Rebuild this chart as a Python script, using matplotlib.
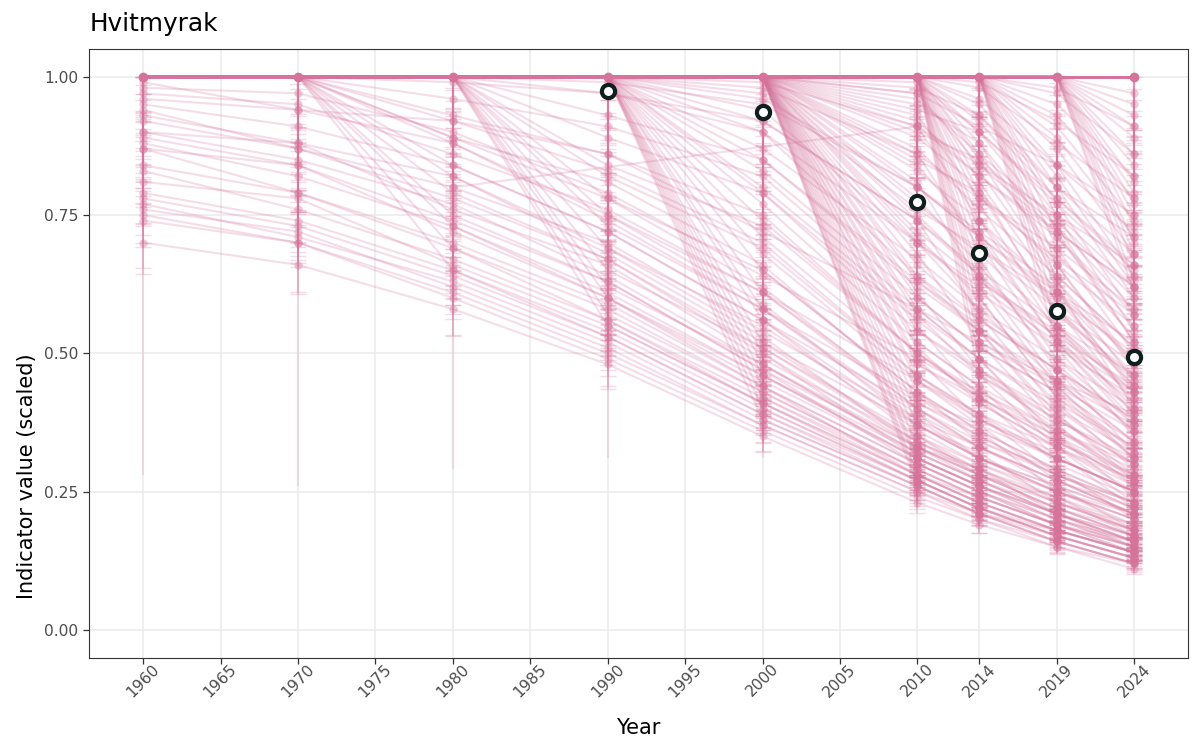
import numpy as np
import matplotlib.pyplot as plt


YEARS = [1960, 1970, 1980, 1990, 2000, 2010, 2014, 2019, 2024]
TICKS = [1960, 1965, 1970, 1975, 1980, 1985, 1990, 1995, 2000, 2005,
         2010, 2014, 2019, 2024]

# indicators already below the reference value in 1960 (all years)
from_1960 = [
    [0.99, 0.94, 0.92, 0.86, 0.72, 0.58, 0.52, 0.45, 0.39],
    [0.98, 0.97, 0.90, 0.79, 0.64, 0.49, 0.43, 0.36, 0.30],
    [0.97, 0.95, 0.86, 0.76, 0.61, 0.45, 0.39, 0.33, 0.27],
    [0.96, 0.94, 0.88, 0.74, 0.58, 0.42, 0.37, 0.31, 0.25],
    [0.95, 0.91, 0.84, 0.72, 0.56, 0.40, 0.34, 0.28, 0.23],
    [0.94, 0.87, 0.80, 0.70, 0.54, 0.38, 0.33, 0.27, 0.22],
    [0.93, 0.88, 0.82, 0.68, 0.52, 0.37, 0.31, 0.26, 0.21],
    [0.92, 0.87, 0.78, 0.67, 0.51, 0.35, 0.30, 0.25, 0.20],
    [0.90, 0.88, 0.76, 0.66, 0.49, 0.34, 0.29, 0.24, 0.19],
    [0.90, 0.85, 0.77, 0.64, 0.48, 0.33, 0.28, 0.23, 0.18],
    [0.89, 0.84, 0.74, 0.63, 0.47, 0.33, 0.28, 0.22, 0.18],
    [0.88, 0.82, 0.73, 0.61, 0.46, 0.32, 0.27, 0.21, 0.17],
    [0.87, 0.84, 0.72, 0.60, 0.45, 0.31, 0.26, 0.21, 0.16],
    [0.87, 0.79, 0.70, 0.59, 0.44, 0.30, 0.25, 0.20, 0.16],
    [0.84, 0.79, 0.69, 0.58, 0.43, 0.29, 0.24, 0.19, 0.15],
    [0.83, 0.76, 0.67, 0.56, 0.42, 0.29, 0.24, 0.19, 0.15],
    [0.81, 0.78, 0.66, 0.55, 0.41, 0.28, 0.23, 0.18, 0.14],
    [0.79, 0.74, 0.65, 0.54, 0.40, 0.27, 0.22, 0.18, 0.14],
    [0.78, 0.73, 0.64, 0.53, 0.39, 0.27, 0.22, 0.17, 0.13],
    [0.77, 0.71, 0.63, 0.52, 0.38, 0.26, 0.21, 0.17, 0.13],
    [0.76, 0.72, 0.62, 0.51, 0.37, 0.25, 0.21, 0.16, 0.12],
    [0.75, 0.70, 0.61, 0.50, 0.37, 0.25, 0.20, 0.16, 0.12],
    [0.74, 0.70, 0.60, 0.49, 0.36, 0.24, 0.20, 0.15, 0.12],
    [0.70, 0.66, 0.58, 0.48, 0.35, 0.23, 0.19, 0.15, 0.11],
]
err_1960 = [0.02, 0.04, 0.03, 0.05, 0.02, 0.03, 0.06, 0.02, 0.04, 0.03, 0.05, 0.02,
            0.04, 0.07, 0.03, 0.05, 0.02, 0.06, 0.04, 0.03, 0.05, 0.08, 0.04, 0.05]

# at 1.00 until 1970, values from 1980 on
from_1970 = [
    [0.99, 0.97, 0.92, 0.74, 0.64, 0.53, 0.44],
    [0.96, 0.91, 0.82, 0.58, 0.49, 0.40, 0.32],
    [0.93, 0.86, 0.75, 0.50, 0.42, 0.34, 0.27],
    [0.92, 0.83, 0.70, 0.46, 0.38, 0.31, 0.25],
    [0.89, 0.81, 0.66, 0.42, 0.35, 0.28, 0.22],
    [0.89, 0.78, 0.62, 0.40, 0.33, 0.27, 0.21],
    [0.88, 0.75, 0.59, 0.37, 0.31, 0.25, 0.19],
    [0.84, 0.72, 0.56, 0.35, 0.29, 0.23, 0.18],
    [0.82, 0.69, 0.53, 0.33, 0.27, 0.22, 0.17],
    [0.79, 0.67, 0.50, 0.31, 0.26, 0.21, 0.16],
    [0.75, 0.63, 0.47, 0.30, 0.25, 0.19, 0.15],
    [0.73, 0.60, 0.44, 0.28, 0.23, 0.18, 0.14],
    [0.69, 0.56, 0.41, 0.27, 0.22, 0.17, 0.13],
    [0.65, 0.53, 0.39, 0.26, 0.21, 0.16, 0.12],
]
err_1970 = [0.03, 0.02, 0.05, 0.04, 0.02, 0.06, 0.03, 0.04, 0.02, 0.05, 0.03, 0.07, 0.04, 0.06]

# at 1.00 until 1980, values from 1990 on
from_1980 = [
    [0.99, 0.95, 0.80, 0.71, 0.60, 0.50],
    [0.97, 0.90, 0.70, 0.61, 0.51, 0.42],
    [0.93, 0.85, 0.63, 0.54, 0.44, 0.36],
    [0.89, 0.79, 0.56, 0.47, 0.38, 0.30],
    [0.84, 0.73, 0.50, 0.42, 0.34, 0.27],
    [0.82, 0.69, 0.46, 0.39, 0.31, 0.25],
    [0.78, 0.65, 0.43, 0.36, 0.29, 0.23],
    [0.75, 0.61, 0.40, 0.33, 0.27, 0.21],
    [0.73, 0.58, 0.38, 0.31, 0.25, 0.20],
    [0.69, 0.55, 0.36, 0.30, 0.24, 0.18],
    [0.65, 0.51, 0.34, 0.28, 0.22, 0.17],
    [0.62, 0.48, 0.32, 0.27, 0.21, 0.16],
    [0.60, 0.46, 0.31, 0.26, 0.20, 0.15],
    [0.57, 0.43, 0.29, 0.24, 0.19, 0.14],
    [0.55, 0.41, 0.28, 0.23, 0.18, 0.14],
]
err_1980 = [0.02, 0.04, 0.03, 0.05, 0.02, 0.06, 0.03, 0.04, 0.02, 0.05, 0.03, 0.04, 0.06, 0.03, 0.05]

# at 1.00 until 1990, values from 2000 on
from_1990 = [
    [0.98, 0.86, 0.78, 0.67, 0.57],
    [0.96, 0.80, 0.71, 0.61, 0.52],
    [0.92, 0.74, 0.65, 0.55, 0.46],
    [0.87, 0.67, 0.58, 0.49, 0.40],
    [0.85, 0.62, 0.54, 0.45, 0.37],
    [0.80, 0.57, 0.49, 0.41, 0.33],
    [0.79, 0.54, 0.46, 0.38, 0.31],
    [0.74, 0.50, 0.43, 0.35, 0.28],
    [0.68, 0.45, 0.38, 0.31, 0.25],
    [0.61, 0.41, 0.35, 0.28, 0.22],
    [0.56, 0.37, 0.31, 0.25, 0.20],
    [0.52, 0.34, 0.29, 0.23, 0.18],
    [0.48, 0.32, 0.27, 0.21, 0.16],
    [0.44, 0.30, 0.25, 0.20, 0.15],
    [0.42, 0.28, 0.23, 0.18, 0.14],
    [0.40, 0.27, 0.22, 0.17, 0.13],
    [0.38, 0.26, 0.21, 0.16, 0.12],
    [0.99, 0.91, 0.82, 0.72, 0.62],
    [0.97, 0.76, 0.69, 0.58, 0.48],
    [0.94, 0.70, 0.62, 0.52, 0.43],
    [0.90, 0.64, 0.56, 0.47, 0.38],
    [0.83, 0.60, 0.51, 0.43, 0.34],
    [0.77, 0.52, 0.44, 0.36, 0.29],
    [0.71, 0.48, 0.41, 0.33, 0.26],
    [0.65, 0.43, 0.36, 0.29, 0.23],
    [0.58, 0.39, 0.33, 0.26, 0.21],
    [0.50, 0.33, 0.28, 0.22, 0.17],
    [0.46, 0.31, 0.26, 0.20, 0.16],
]
err_1990 = [0.03, 0.02, 0.04, 0.05, 0.02, 0.03, 0.06, 0.02, 0.04, 0.03, 0.05, 0.02,
            0.04, 0.03, 0.05, 0.02, 0.04, 0.03, 0.05, 0.02, 0.04, 0.06, 0.03, 0.02,
            0.05, 0.04, 0.03, 0.06]

# at 1.00 until 2000, values from 2010 on
from_2000 = [
    [0.98, 0.93, 0.80, 0.71],
    [0.97, 0.84, 0.72, 0.62],
    [0.95, 0.88, 0.66, 0.55],
    [0.93, 0.78, 0.69, 0.58],
    [0.91, 0.74, 0.61, 0.49],
    [0.89, 0.80, 0.57, 0.46],
    [0.86, 0.69, 0.60, 0.44],
    [0.84, 0.71, 0.52, 0.41],
    [0.81, 0.63, 0.54, 0.43],
    [0.78, 0.66, 0.48, 0.36],
    [0.74, 0.57, 0.47, 0.38],
    [0.71, 0.60, 0.42, 0.33],
    [0.68, 0.52, 0.44, 0.31],
    [0.64, 0.54, 0.38, 0.30],
    [0.61, 0.47, 0.39, 0.27],
    [0.58, 0.49, 0.34, 0.28],
    [0.55, 0.42, 0.35, 0.24],
    [0.52, 0.44, 0.31, 0.25],
    [0.49, 0.38, 0.32, 0.22],
    [0.46, 0.39, 0.28, 0.23],
    [0.43, 0.34, 0.29, 0.20],
    [0.41, 0.36, 0.25, 0.21],
    [0.39, 0.31, 0.26, 0.18],
    [0.37, 0.32, 0.23, 0.19],
    [0.35, 0.28, 0.24, 0.17],
    [0.33, 0.29, 0.21, 0.17],
    [0.31, 0.26, 0.21, 0.15],
    [0.30, 0.25, 0.19, 0.16],
    [0.28, 0.24, 0.19, 0.14],
    [0.27, 0.22, 0.17, 0.13],
    [0.26, 0.21, 0.18, 0.14],
    [0.99, 0.90, 0.77, 0.64],
    [0.97, 0.91, 0.84, 0.75],
    [0.96, 0.86, 0.74, 0.60],
    [0.94, 0.90, 0.78, 0.66],
    [0.92, 0.82, 0.71, 0.57],
    [0.90, 0.85, 0.73, 0.52],
    [0.87, 0.76, 0.64, 0.51],
    [0.85, 0.79, 0.66, 0.47],
    [0.83, 0.74, 0.58, 0.45],
    [0.80, 0.72, 0.62, 0.40],
    [0.77, 0.68, 0.55, 0.42],
    [0.75, 0.64, 0.51, 0.35],
    [0.72, 0.63, 0.53, 0.39],
    [0.70, 0.58, 0.45, 0.34],
    [0.66, 0.56, 0.47, 0.32],
    [0.63, 0.55, 0.41, 0.29],
    [0.60, 0.51, 0.43, 0.31],
    [0.57, 0.46, 0.37, 0.26],
    [0.54, 0.47, 0.36, 0.28],
    [0.51, 0.41, 0.33, 0.23],
    [0.48, 0.42, 0.30, 0.24],
    [0.45, 0.37, 0.27, 0.21],
]
err_2000 = [0.02, 0.03, 0.05, 0.02, 0.04, 0.03, 0.06, 0.02, 0.04, 0.05, 0.03, 0.02,
            0.04, 0.06, 0.03, 0.05, 0.02, 0.04, 0.03, 0.06, 0.02, 0.05, 0.04, 0.03,
            0.06, 0.02, 0.04, 0.05, 0.03, 0.04, 0.06, 0.03, 0.05, 0.02, 0.04, 0.06,
            0.03, 0.02, 0.05, 0.04, 0.03, 0.06, 0.02, 0.04, 0.05, 0.03, 0.02, 0.06,
            0.04, 0.03, 0.05, 0.02, 0.04]

# at 1.00 until 2010, values from 2014 on
from_2010 = [
    [0.98, 0.88, 0.78],
    [0.95, 0.80, 0.68],
    [0.92, 0.75, 0.62],
    [0.88, 0.71, 0.55],
    [0.85, 0.64, 0.51],
    [0.81, 0.61, 0.46],
    [0.77, 0.55, 0.43],
    [0.72, 0.52, 0.38],
    [0.67, 0.47, 0.36],
    [0.62, 0.44, 0.32],
    [0.57, 0.40, 0.30],
    [0.52, 0.37, 0.27],
    [0.99, 0.92, 0.82],
    [0.96, 0.84, 0.72],
    [0.93, 0.78, 0.65],
    [0.90, 0.73, 0.58],
    [0.86, 0.68, 0.53],
    [0.83, 0.63, 0.48],
    [0.79, 0.58, 0.44],
    [0.74, 0.54, 0.40],
    [0.70, 0.49, 0.37],
    [0.64, 0.45, 0.34],
    [0.60, 0.42, 0.31],
    [0.54, 0.39, 0.28],
    [0.49, 0.35, 0.26],
    [0.46, 0.33, 0.25],
]
err_2010 = [0.03, 0.05, 0.02, 0.04, 0.06, 0.03, 0.02, 0.05, 0.04, 0.03, 0.06, 0.02,
            0.04, 0.02, 0.05, 0.03, 0.06, 0.02, 0.04, 0.03, 0.05, 0.02, 0.06, 0.04,
            0.03, 0.05]

# at 1.00 until 2014, values from 2019 on
from_2014 = [
    [0.97, 0.86],
    [0.93, 0.78],
    [0.89, 0.71],
    [0.84, 0.64],
    [0.80, 0.60],
    [0.75, 0.54],
    [0.69, 0.50],
    [0.63, 0.45],
    [0.58, 0.41],
    [0.98, 0.91],
    [0.95, 0.82],
    [0.91, 0.74],
    [0.87, 0.68],
    [0.82, 0.62],
    [0.77, 0.57],
    [0.72, 0.52],
    [0.66, 0.48],
    [0.61, 0.43],
    [0.55, 0.39],
    [0.52, 0.37],
]
err_2014 = [0.02, 0.04, 0.03, 0.05, 0.02, 0.04, 0.06, 0.03, 0.05, 0.03, 0.05, 0.02,
            0.04, 0.06, 0.03, 0.02, 0.05, 0.04, 0.03, 0.06]

# at 1.00 until 2019, value in 2024
from_2019 = [[0.95], [0.91], [0.86], [0.81], [0.77], [0.73], [0.68], [0.63],
             [0.97], [0.93], [0.89], [0.84], [0.79], [0.75], [0.70], [0.66], [0.61]]
err_2019 = [0.03, 0.02, 0.05, 0.04, 0.03, 0.06, 0.02, 0.04, 0.05, 0.03, 0.02, 0.06,
            0.04, 0.03, 0.05, 0.02, 0.04]

# one indicator that rises between 1980 and 2010
rising_years = [1980, 2010, 2014, 2019, 2024]
rising_values = [0.80, 0.91, 0.84, 0.75, 0.66]

# indicators that stay at the reference value, with their lower bounds
flat_values = [1.00, 1.00, 1.00, 1.00, 1.00, 1.00, 1.00, 1.00, 1.00]
flat_lower = [0.28, 0.26, 0.29, 0.31, 0.31, np.nan, np.nan, np.nan, np.nan]
flat_lower_short = [0.73, 0.70, 0.75, 0.68, 0.72, 0.70, 0.74, 0.71, 0.69]

# mean over all indicators
mean_years = [1990, 2000, 2010, 2014, 2019, 2024]
mean_values = [0.975, 0.936, 0.773, 0.681, 0.577, 0.493]

PINK = '#D5739B'
DARK = '#0E1F1D'


def pad(tails, n_at_one):
    return [[1.0] * n_at_one + list(t) for t in tails]


def main():
    groups = [
        (from_1960, err_1960),
        (pad(from_1970, 2), err_1970),
        (pad(from_1980, 3), err_1980),
        (pad(from_1990, 4), err_1990),
        (pad(from_2000, 5), err_2000),
        (pad(from_2010, 6), err_2010),
        (pad(from_2014, 7), err_2014),
        (pad(from_2019, 8), err_2019),
    ]
    for rows, errs in groups:
        assert len(rows) == len(errs)

    fig = plt.figure(figsize=(12, 7.5), dpi=100)
    ax = fig.add_axes([0.0744, 0.1233, 0.9156, 0.8113])

    xs, ys, lo, hi = [], [], [], []
    for rows, errs in groups:
        for row, e in zip(rows, errs):
            ax.plot(YEARS, row, color=PINK, alpha=0.24, lw=1.5, zorder=2)
            for x, v in zip(YEARS, row):
                if v < 1.0:
                    xs.append(x)
                    ys.append(v)
                    lo.append(v * e * 1.6)
                    hi.append(min(1.0 - v, v * e))

    ax.errorbar(xs, ys, yerr=[lo, hi], fmt='none', ecolor=PINK,
                alpha=0.25, elinewidth=1.3, capsize=5.5, capthick=1.0, zorder=2)

    ax.plot(rising_years, rising_values, color=PINK, alpha=0.24, lw=1.5, zorder=2)
    xs += rising_years
    ys += rising_values

    flat = np.array(flat_values)
    for lower, a in ((flat_lower, 0.18), (flat_lower_short, 0.7)):
        fl = np.array(lower)
        ok = ~np.isnan(fl)
        ax.errorbar(np.array(YEARS)[ok], flat[ok],
                    yerr=[flat[ok] - fl[ok], np.zeros(ok.sum())],
                    fmt='none', ecolor=PINK, alpha=a, elinewidth=1.6,
                    capsize=0, zorder=2)

    ax.scatter(xs, ys, s=36, color=PINK, alpha=0.38, linewidths=0, zorder=3)
    ax.plot(YEARS, flat_values, color=PINK, lw=2.2, marker='o', ms=7,
            mew=0, zorder=4)

    ax.plot(mean_years, mean_values, 'o', ms=9.5, mfc='white', mec=DARK,
            mew=3.0, zorder=6)

    ax.set_xlim(1956.525, 2027.475)
    ax.set_ylim(-0.05, 1.05)
    ax.set_xticks(TICKS)
    ax.set_yticks([0, 0.25, 0.5, 0.75, 1.0])
    ax.set_yticklabels(['0.00', '0.25', '0.50', '0.75', '1.00'])
    ax.grid(True, color='#EBEBEB', lw=1.1, zorder=0)
    ax.set_axisbelow(True)
    for s in ax.spines.values():
        s.set_color('#333333')
        s.set_linewidth(0.8)

    ax.tick_params(axis='both', length=4.3, width=0.9, color='#333333',
                   labelcolor='#4D4D4D', labelsize=11.2)
    ax.tick_params(axis='y', pad=3.5)
    ax.tick_params(axis='x', pad=-1.5)
    for lab in ax.get_xticklabels():
        lab.set_rotation(45)
        lab.set_ha('center')
        lab.set_va('top')

    fig.text(0.532, 1 - 734 / 750, 'Year', ha='center', va='baseline',
             fontsize=15, color='black')
    fig.text(27 / 1200, 0.5293, 'Indicator value (scaled)', ha='right',
             va='center', rotation=90, rotation_mode='anchor', fontsize=15,
             color='black')
    fig.text(0.0744, 1 - 30.7 / 750, 'Hvitmyrak', ha='left', va='baseline',
             fontsize=17.8, color='black')

    fig.savefig('out.png', dpi=100)


if __name__ == '__main__':
    main()
